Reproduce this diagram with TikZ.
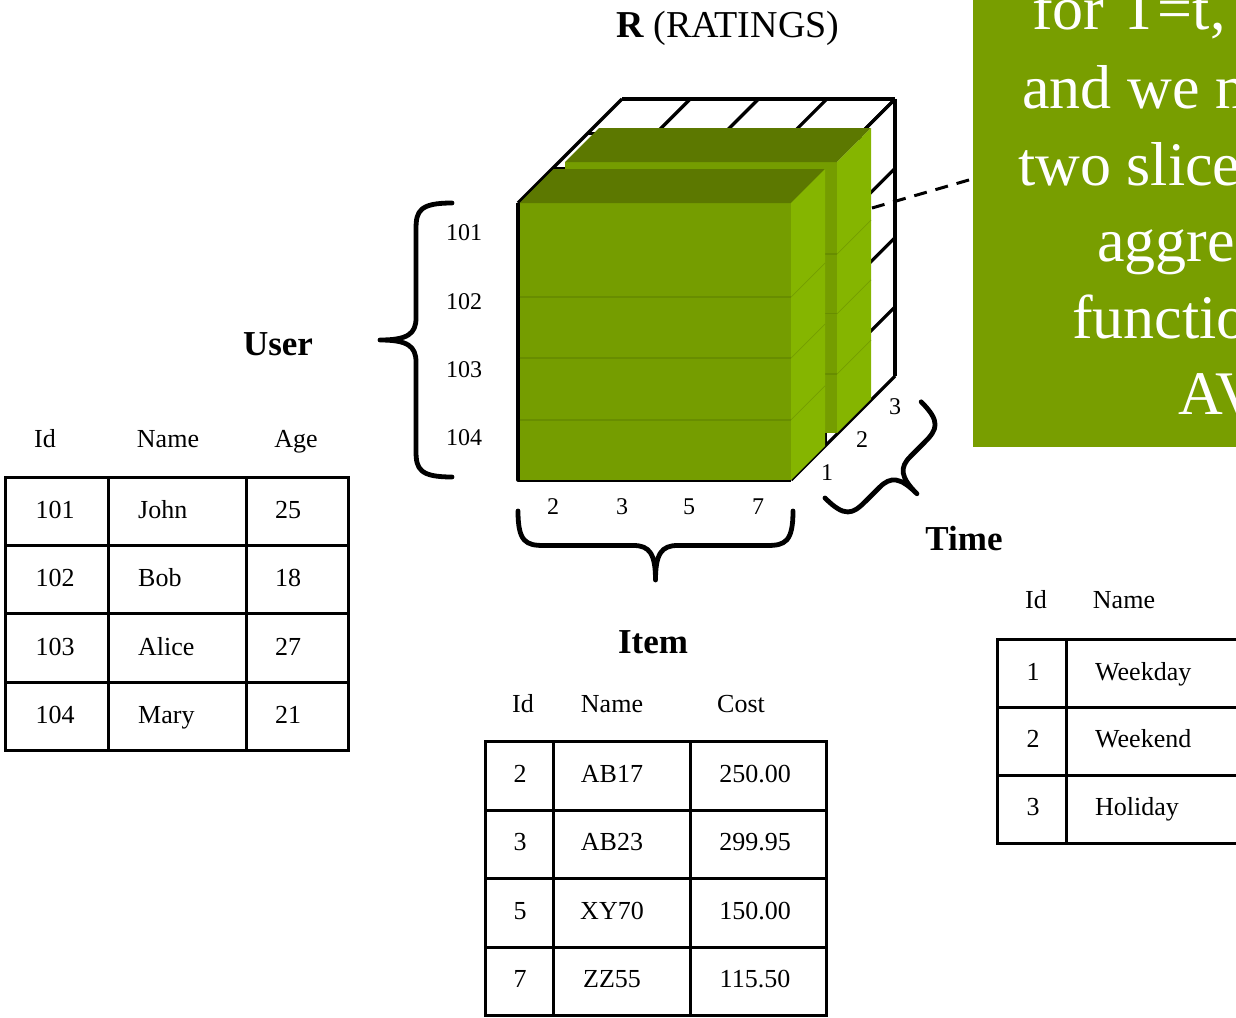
\documentclass[tikz,border=0pt]{standalone}
\usepackage{fontspec}
\setmainfont{Liberation Serif}
\usetikzlibrary{calc}

\definecolor{sliceFront}{RGB}{117,157,0}
\definecolor{sliceTop}{RGB}{92,120,0}
\definecolor{sliceSide}{RGB}{133,181,0}
\definecolor{sliceRow}{RGB}{104,141,0}
\definecolor{noteGreen}{RGB}{120,158,0}

\newcommand{\sizept}[1]{\fontsize{#1}{#1}\selectfont}

\tikzset{
  % curly brace from (0,0) to (#1,0), tip #2 below
  pics/curly/.style 2 args={code={
    \draw[bracestroke] (0,0) .. controls (0,0.45*#2) and (8,0.5*#2) .. (26,0.5*#2)
      -- ({#1/2-22},0.5*#2) .. controls ({#1/2-6},0.5*#2) and ({#1/2},0.62*#2) .. ({#1/2},#2)
      .. controls ({#1/2},0.62*#2) and ({#1/2+6},0.5*#2) .. ({#1/2+22},0.5*#2)
      -- ({#1-26},0.5*#2) .. controls ({#1-8},0.5*#2) and (#1,0.45*#2) .. (#1,0);
  }},
  % one time slice of the cube, front face #1 x #2
  pics/slab/.style 2 args={code={
    \fill[sliceFront] (0,0) rectangle (#1,#2);
    \fill[sliceTop] (0,0) -- (34,-34) -- ({#1+34},-34) -- (#1,0) -- cycle;
    \fill[sliceSide] (#1,0) -- ({#1+34},-34) -- ({#1+34},{#2-34}) -- (#1,#2) -- cycle;
    \foreach \f in {0.34,0.56,0.783}{
      \draw[sliceRow, line width=1.4pt] (0,{\f*#2}) -- (#1,{\f*#2});
      \draw[sliceRow!60!sliceSide, line width=0.7pt] (#1,{\f*#2}) -- ++(34,-34);
    }
  }}
}

\begin{document}
\begin{tikzpicture}
  [x=1pt, y=-1pt,
   wire/.style={line width=3.2pt, line join=round},
   grid/.style={line width=3pt},
   bracestroke/.style={line width=4.8pt, line cap=round, line join=round},
   cell/.style={inner sep=0, font=\sizept{26}},
   tick/.style={inner sep=0, font=\sizept{24}},
   axis/.style={inner sep=0, font=\sizept{35}\bfseries},
   note/.style={fill=noteGreen, minimum width=340pt, minimum height=536pt, inner sep=0},
   notetext/.style={inner sep=0, text=white, font=\sizept{62}},
   leader/.style={line width=3pt, dash pattern=on 13pt off 9pt}]

  \useasboundingbox (0,0) rectangle (1236,1017);
  \clip (0,0) rectangle (1236,1017);

  \node[inner sep=0, anchor=base west, font=\sizept{38}] (ratings) at (616,37) {\textbf{R} (RATINGS)};

  % wire frame of the ratings cube
  \begin{scope}[wire]
    \foreach \i in {0,...,4}
      \draw ({518+68.25*\i},203) -- ++(104,-104);
    \foreach \k in {0,...,3}
      \draw ({518+34.67*\k},{203-34.67*\k}) -- ++(273,0);
    \foreach \j in {0,...,4}
      \draw (791,{203+69.25*\j}) -- ++(104,-104);
    \foreach \k in {0,...,3}
      \draw ({791+34.67*\k},{203-34.67*\k}) -- ++(0,277);
    \draw (518,203) -- (518,480) -- (791,480);
  \end{scope}

  % the two selected slices
  \pic (back)  at (565,162)   {slab={272}{271}};
  \pic (front) at (519.5,203) {slab={271.5}{277}};

  % callout
  \node[note, anchor=south west] (note) at (973,447) {};
  \foreach \txt/\x/\y [count=\n] in {{for T=t,}/1032/29, {and we m}/1022/108.5,
      {two slice}/1018/185, {aggre}/1097/261.5, {functio}/1072/338, {AV}/1178/414.5}
    \node[notetext, anchor=base west] (noteline\n) at (\x,\y) {\txt};
  \coordinate (hit) at (872,208);
  \draw[leader] (hit) -- (note.west);

  % axis ticks
  \foreach \u [count=\r] in {101,...,104}
    \node[tick] (user\u) at (464,{233+68.3*(\r-1)}) {\u};
  \foreach \it/\x in {2/553, 3/622, 5/689, 7/758}
    \node[tick] (item\it) at (\x,507) {\it};
  \foreach \t/\x/\y in {1/827/473, 2/862/440, 3/895/407}
    \node[tick] (time\t) at (\x,\y) {\t};

  % braces
  \pic[rotate=-90] (userbrace) at (452,203) {curly={274}{72}};
  \pic (itembrace) at (518,511) {curly={275}{69}};
  \pic[rotate=45] (timebrace) at (825,498) {curly={136}{62}};

  \node[axis, anchor=base] (userlbl) at (278,355) {User};
  \node[axis, anchor=base] (itemlbl) at (653,653) {Item};
  \node[axis, anchor=base] (timelbl) at (964,550) {Time};

  % user table
  \node[cell, anchor=base] (uhid)   at (45,447)  {Id};
  \node[cell, anchor=base] (uhname) at (168,447) {Name};
  \node[cell, anchor=base] (uhage)  at (296,447) {Age};
  \draw[grid] (5,477) rectangle (348,750);
  \draw[grid] (108,477) -- (108,750) (246,477) -- (246,750);
  \foreach \y in {545,613,682}
    \draw[grid] (5,\y) -- (348,\y);
  \foreach \id/\name/\age [count=\r] in {101/John/25, 102/Bob/18, 103/Alice/27, 104/Mary/21} {
    \node[cell, anchor=base]      (uid\r)   at (55,{518+68.5*(\r-1)})  {\id};
    \node[cell, anchor=base west] (uname\r) at (138,{518+68.5*(\r-1)}) {\name};
    \node[cell, anchor=base]      (uage\r)  at (288,{518+68.5*(\r-1)}) {\age};
  }

  % item table
  \node[cell, anchor=base] (ihid)   at (523,712) {Id};
  \node[cell, anchor=base] (ihname) at (612,712) {Name};
  \node[cell, anchor=base] (ihcost) at (741,712) {Cost};
  \draw[grid] (485,741) rectangle (826,1015);
  \draw[grid] (553,741) -- (553,1015) (690,741) -- (690,1015);
  \foreach \y in {810,878,947}
    \draw[grid] (485,\y) -- (826,\y);
  \foreach \id/\name/\cost [count=\r] in {2/AB17/250.00, 3/AB23/299.95, 5/XY70/150.00, 7/ZZ55/115.50} {
    \node[cell, anchor=base] (iid\r)   at (520,{782+68.5*(\r-1)}) {\id};
    \node[cell, anchor=base] (iname\r) at (612,{782+68.5*(\r-1)}) {\name};
    \node[cell, anchor=base] (icost\r) at (755,{782+68.5*(\r-1)}) {\cost};
  }

  % time table
  \node[cell, anchor=base] (thid)   at (1036,608) {Id};
  \node[cell, anchor=base] (thname) at (1124,608) {Name};
  \draw[grid] (1260,639) -- (997,639) -- (997,843) -- (1260,843);
  \draw[grid] (1066,639) -- (1066,843);
  \foreach \y in {707,775}
    \draw[grid] (997,\y) -- (1260,\y);
  \foreach \id/\name [count=\r] in {1/Weekday, 2/Weekend, 3/Holiday} {
    \node[cell, anchor=base]      (tid\r)   at (1033,{680+67.5*(\r-1)}) {\id};
    \node[cell, anchor=base west] (tname\r) at (1095,{680+67.5*(\r-1)}) {\name};
  }
\end{tikzpicture}
\end{document}
